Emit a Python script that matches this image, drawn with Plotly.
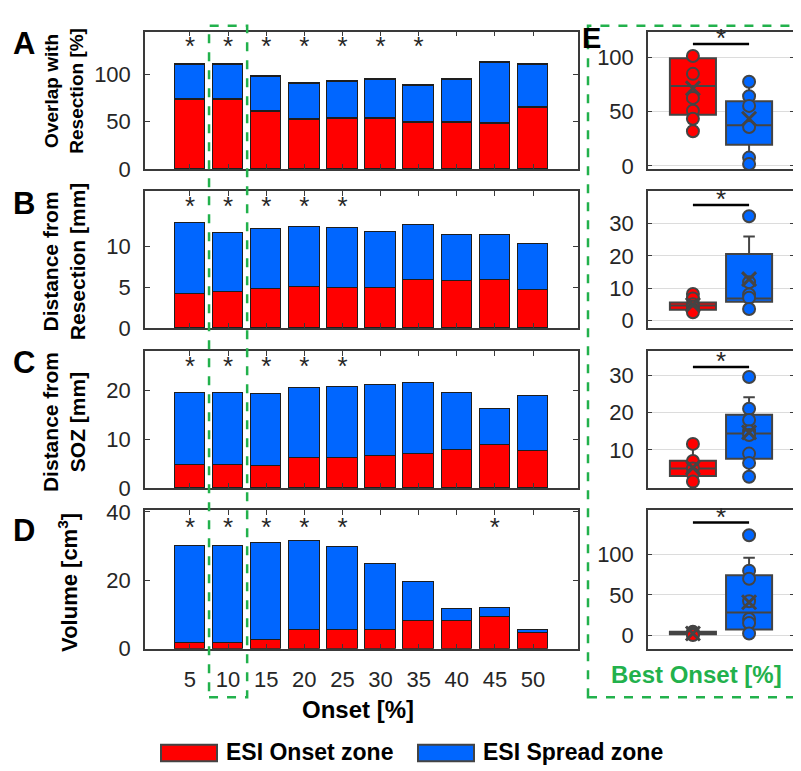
import plotly.graph_objects as go

W, H = 801, 771
FONT = "Liberation Sans, Arial, sans-serif"
RED = "#FF0000"
BLUE = "#0066FF"
EDGE = "#3a3a3a"
GREEN = "#22B14C"


def px(x):
    return x / W


def py(y):
    return 1 - y / H


# ---------------- data ----------------
onset = [5, 10, 15, 20, 25, 30, 35, 40, 45, 50]

# A: Overlap with resection [%]
A_onset = [73.5, 73.1, 60.9, 52.7, 53.1, 53.1, 49.0, 49.0, 48.3, 65.0]
A_spread = [36.7, 37.1, 36.7, 37.1, 39.4, 41.5, 39.4, 44.9, 63.6, 45.5]
A_sig = [1, 1, 1, 1, 1, 1, 1, 0, 0, 0]

# B: Distance from resection [mm]
B_onset = [4.1, 4.3, 4.7, 5.0, 4.9, 4.9, 5.8, 5.7, 5.8, 4.6]
B_spread = [8.7, 7.3, 7.4, 7.3, 7.3, 6.8, 6.8, 5.6, 5.5, 5.6]
B_sig = [1, 1, 1, 1, 1, 0, 0, 0, 0, 0]

# C: Distance from SOZ [mm]
C_onset = [4.6, 4.6, 4.5, 6.0, 6.0, 6.5, 6.8, 7.7, 8.7, 7.6]
C_spread = [14.7, 14.7, 14.6, 14.5, 14.7, 14.5, 14.7, 11.6, 7.5, 11.1]
C_sig = [1, 1, 1, 1, 1, 0, 0, 0, 0, 0]

# D: Volume [cm3]
D_onset = [1.5, 1.6, 2.5, 5.3, 5.3, 5.4, 8.1, 8.2, 9.2, 4.5]
D_spread = [28.4, 28.5, 28.4, 26.1, 24.3, 19.2, 11.3, 3.3, 2.6, 0.8]
D_sig = [1, 1, 1, 1, 1, 0, 0, 0, 1, 0]

# E: best onset box statistics (onset zone / spread zone)
E_groups = [1, 2]
EA_q1 = [47.3, 19.6]; EA_med = [73.8, 37.5]; EA_q3 = [99.4, 59.8]
EA_lo = [32.0, 1.8]; EA_hi = [101.5, 77.7]; EA_mean = [71.7, 43.5]
EA_pts_onset = [101.5, 85.0, 62.8, 50.9, 43.5, 32.0]
EA_pts_spread = [77.7, 64.3, 55.4, 36.0, 7.7, 1.8]

EB_q1 = [3.3, 5.8]; EB_med = [4.6, 6.8]; EB_q3 = [5.5, 20.6]
EB_lo = [1.8, 3.3]; EB_hi = [8.1, 26.0]; EB_mean = [4.8, 12.8]
EB_pts_onset = [8.2, 6.8, 5.0, 4.2, 3.3, 2.5]
EB_pts_spread = [32.3, 11.8, 8.0, 7.0, 3.5]

EC_q1 = [3.0, 7.6]; EC_med = [5.0, 14.4]; EC_q3 = [7.1, 19.4]
EC_lo = [1.3, 2.8]; EC_hi = [11.6, 24.1]; EC_mean = [5.2, 14.7]
EC_pts_onset = [11.6, 7.0, 5.0, 3.5, 1.5]
EC_pts_spread = [29.5, 21.0, 18.0, 15.0, 14.0, 9.0, 6.5, 2.8]

ED_q1 = [1.0, 6.8]; ED_med = [2.0, 28.0]; ED_q3 = [4.0, 74.4]
ED_lo = [0.0, 1.6]; ED_hi = [5.0, 96.0]; ED_mean = [2.0, 40.8]
ED_pts_onset = [4.0, 2.5, 1.0, 0.0]
ED_pts_spread = [124.0, 80.0, 70.0, 42.0, 20.0, 15.0, 2.0]

# ---------------- layout geometry ----------------
rows = [(13, 155), (178, 319), (343, 484), (507, 650)]
bar_x = (137, 570)
box_x = (640, 786)

bar_panels = [
    dict(on=A_onset, sp=A_spread, sig=A_sig, sig_y=127.5, rng=[0, 145], tv=[0, 50, 100]),
    dict(on=B_onset, sp=B_spread, sig=B_sig, sig_y=14.6, rng=[0, 16.7], tv=[0, 5, 10]),
    dict(on=C_onset, sp=C_spread, sig=C_sig, sig_y=24.4, rng=[0, 28], tv=[0, 10, 20]),
    dict(on=D_onset, sp=D_spread, sig=D_sig, sig_y=35.0, rng=[0, 40.5], tv=[0, 20, 40]),
]

box_panels = [
    dict(q1=EA_q1, med=EA_med, q3=EA_q3, lo=EA_lo, hi=EA_hi, mean=EA_mean,
         p1=EA_pts_onset, p2=EA_pts_spread, rng=[-3, 124], tv=[0, 50, 100], sig=112.5),
    dict(q1=EB_q1, med=EB_med, q3=EB_q3, lo=EB_lo, hi=EB_hi, mean=EB_mean,
         p1=EB_pts_onset, p2=EB_pts_spread, rng=[-2.4, 40], tv=[0, 10, 20, 30], sig=35.8),
    dict(q1=EC_q1, med=EC_med, q3=EC_q3, lo=EC_lo, hi=EC_hi, mean=EC_mean,
         p1=EC_pts_onset, p2=EC_pts_spread, rng=[-0.2, 36.4], tv=[10, 20, 30], sig=32.2),
    dict(q1=ED_q1, med=ED_med, q3=ED_q3, lo=ED_lo, hi=ED_hi, mean=ED_mean,
         p1=ED_pts_onset, p2=ED_pts_spread, rng=[-17, 155], tv=[0, 50, 100], sig=139.6),
]

fig = go.Figure()
layout = dict(
    width=W, height=H, margin=dict(l=0, r=0, t=0, b=0),
    paper_bgcolor="white", plot_bgcolor="white",
    barmode="stack", bargap=0, showlegend=False,
    font=dict(family=FONT, color="#262626"),
)

tickfont = dict(family=FONT, size=22, color="#262626")

for i, p in enumerate(bar_panels):
    n = i + 1
    xa = "x" if n == 1 else f"x{n}"
    ya = "y" if n == 1 else f"y{n}"
    fig.add_trace(go.Bar(x=onset, y=p["on"], width=4, marker=dict(color=RED, line=dict(color="#1e1e1e", width=1.2)),
                         xaxis=xa, yaxis=ya, name="ESI Onset zone"))
    fig.add_trace(go.Bar(x=onset, y=p["sp"], width=4, marker=dict(color=BLUE, line=dict(color="#1e1e1e", width=1.2)),
                         xaxis=xa, yaxis=ya, name="ESI Spread zone"))
    sx = [o for o, s in zip(onset, p["sig"]) if s]
    fig.add_trace(go.Scatter(x=sx, y=[p["sig_y"]] * len(sx), mode="text", text=["*"] * len(sx),
                             textfont=dict(family=FONT, size=26, color="#262626"),
                             xaxis=xa, yaxis=ya, hoverinfo="skip"))
    top, bot = rows[i]
    layout[f"xaxis{'' if n == 1 else n}"] = dict(
        domain=[px(bar_x[0]), px(bar_x[1])], anchor=ya,
        range=[-0.9, 55.9], tickvals=onset, ticktext=[str(o) for o in onset],
        ticks="inside", ticklen=5, tickwidth=1.2, tickcolor=EDGE,
        showline=True, linecolor=EDGE, linewidth=1.5, mirror="ticks",
        showgrid=False, zeroline=False, showticklabels=(n == 4), tickfont=tickfont,
        ticklabelstandoff=10,
    )
    layout[f"yaxis{'' if n == 1 else n}"] = dict(
        domain=[py(bot), py(top)], anchor=xa, range=p["rng"], tickvals=p["tv"],
        ticks="inside", ticklen=5, tickwidth=1.2, tickcolor=EDGE,
        showline=True, linecolor=EDGE, linewidth=1.5, mirror="ticks",
        showgrid=False, zeroline=False, tickfont=tickfont, ticklabelstandoff=8,
    )

for i, p in enumerate(box_panels):
    n = i + 5
    xa, ya = f"x{n}", f"y{n}"
    for g, col, pts in [(0, RED, p["p1"]), (1, BLUE, p["p2"])]:
        fig.add_trace(go.Box(
            x=[E_groups[g]], q1=[p["q1"][g]], median=[p["med"][g]], q3=[p["q3"][g]],
            lowerfence=[p["lo"][g]], upperfence=[p["hi"][g]],
            fillcolor=col, line=dict(color="#444444", width=2), width=0.82, whiskerwidth=0.25,
            boxpoints=False, xaxis=xa, yaxis=ya, hoverinfo="skip"))
        fig.add_trace(go.Scatter(
            x=[E_groups[g]] * len(pts), y=pts, mode="markers",
            marker=dict(size=12, color=col, line=dict(color="#444444", width=2)),
            xaxis=xa, yaxis=ya, hoverinfo="skip"))
        fig.add_trace(go.Scatter(
            x=[E_groups[g]], y=[p["mean"][g]], mode="markers",
            marker=dict(symbol="x-thin", size=14, line=dict(color="#444444", width=3)),
            xaxis=xa, yaxis=ya, hoverinfo="skip"))
    top, bot = rows[i]
    layout[f"xaxis{n}"] = dict(
        domain=[px(box_x[0]), px(box_x[1])], anchor=ya, range=[0.2, 2.8],
        showticklabels=False, ticks="", showline=True, linecolor=EDGE, linewidth=1.5,
        mirror=True, showgrid=False, zeroline=False,
    )
    layout[f"yaxis{n}"] = dict(
        domain=[py(bot), py(top)], anchor=xa, range=p["rng"], tickvals=p["tv"],
        ticks="inside", ticklen=4, tickcolor=EDGE, showline=True, linecolor=EDGE,
        linewidth=1.5, mirror="ticks", showgrid=True, gridcolor="#dcdcdc", gridwidth=1,
        zeroline=False, tickfont=tickfont, ticklabelstandoff=8,
    )

fig.update_layout(**layout)

shapes = []
annotations = []
# significance bars in E
for i, p in enumerate(box_panels):
    n = i + 5
    shapes.append(dict(type="line", xref=f"x{n}", yref=f"y{n}", x0=E_groups[0], x1=E_groups[1],
                       y0=p["sig"], y1=p["sig"], line=dict(color="black", width=2.5)))
    annotations.append(dict(xref=f"x{n}", yref=f"y{n}", x=1.5, y=p["sig"], text="*", showarrow=False,
                            yanchor="bottom", yshift=-11, font=dict(family=FONT, size=26, color="#262626")))

# green dashed highlight boxes
shapes.append(dict(type="rect", xref="paper", yref="paper", x0=px(580), x1=px(795), y0=py(700), y1=py(7),
                   line=dict(color=GREEN, width=2.5, dash="dash"), fillcolor="rgba(0,0,0,0)"))
shapes.append(dict(type="rect", xref="x4", yref="paper", x0=7.5, x1=12.5, y0=py(700), y1=py(7),
                   line=dict(color=GREEN, width=2.5, dash="dash"), fillcolor="rgba(0,0,0,0)"))

# legend swatches
shapes.append(dict(type="rect", xref="paper", yref="paper", x0=px(153), x1=px(209), y0=py(766), y1=py(749),
                   fillcolor=RED, line=dict(color="#444444", width=2)))
shapes.append(dict(type="rect", xref="paper", yref="paper", x0=px(410), x1=px(466), y0=py(766), y1=py(749),
                   fillcolor=BLUE, line=dict(color="#444444", width=2)))


def ann(x, y, text, size, bold=True, color="black", angle=0, xanchor="center"):
    annotations.append(dict(xref="paper", yref="paper", x=px(x), y=py(y), text=f"<b>{text}</b>" if bold else text,
                            showarrow=False, textangle=angle, xanchor=xanchor, yanchor="middle",
                            font=dict(family=FONT, size=size, color=color)))


ann(216, 757, "ESI Onset zone", 23, xanchor="left")
ann(473, 757, "ESI Spread zone", 23, xanchor="left")
ann(350, 713, "Onset [%]", 24)
ann(688, 677, "Best Onset [%]", 24, color=GREEN)

for letter, (x, y) in zip("ABCD", [(16, 25), (16, 190), (16, 355), (16, 528)]):
    ann(x, y, letter, 31)
ann(583, 20, "E", 29)

ann(56, 74, "Overlap with<br>Resection [%]", 19, angle=-90)
ann(56, 250, "Distance from<br>Resection [mm]", 21, angle=-90)
ann(56, 416, "Distance from<br>SOZ [mm]", 21, angle=-90)
ann(60, 582, "Volume [cm<sup>3</sup>]", 22, angle=-90)

fig.update_layout(shapes=shapes, annotations=annotations)
fig.write_html("out.html")
